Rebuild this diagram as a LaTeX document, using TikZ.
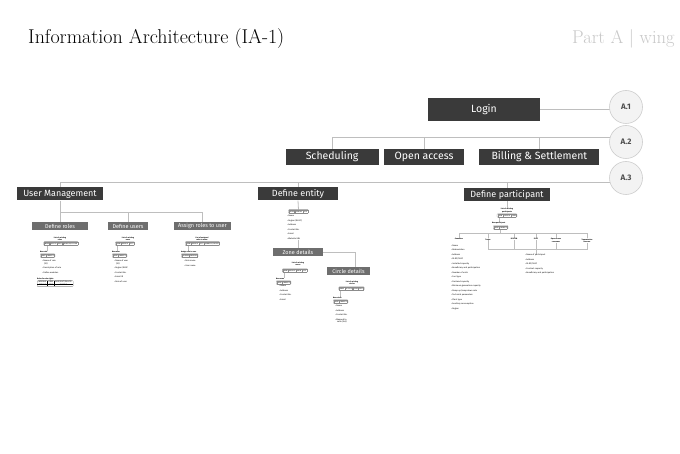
\documentclass[tikz,border=0pt]{standalone}
\usepackage{fontspec}
\newfontfamily\boxfont{Fira Sans}
\usetikzlibrary{positioning,backgrounds}
\definecolor{boxdark}{RGB}{58,58,58}
\definecolor{boxgray}{RGB}{110,110,110}
\definecolor{linegray}{RGB}{190,190,190}
\definecolor{circfill}{RGB}{243,243,243}
\definecolor{circline}{RGB}{205,205,205}
\definecolor{headgray}{RGB}{200,200,200}
\newcommand{\tinyfont}{\boxfont\fontsize{2}{2.6}\selectfont}
\newcommand{\btn}[1]{{\setlength{\fboxsep}{0.4pt}\setlength{\fboxrule}{0.25pt}\fcolorbox{black!45}{white}{#1}}}
\newcommand{\fielditem}[1]{\textbullet\ #1}
\tikzset{heading/.style={anchor=base west, inner sep=0pt, font=\fontsize{20}{22}\selectfont}, topbox/.style={rectangle, fill=boxdark, text=white, font=\boxfont\fontsize{10.5}{12}\selectfont, minimum height=16pt, inner sep=1pt}, subbox/.style={rectangle, fill=boxdark, text=white, font=\boxfont\fontsize{9}{10}\selectfont, minimum height=13pt, inner sep=1pt}, pagebox/.style={rectangle, fill=boxgray, text=white, font=\boxfont\fontsize{5.5}{6}\selectfont, minimum height=8.5pt, inner sep=0.5pt}, refcircle/.style={circle, draw=circline, fill=circfill, line width=0.6pt, minimum size=33pt, font=\boxfont\bfseries\fontsize{8}{9}\selectfont, text=black!70}, link/.style={draw=linegray, line width=0.8pt}, thinlink/.style={draw=linegray, line width=0.5pt}, btns/.style={draw=black!45, rounded corners=0.8pt, line width=0.3pt, inner sep=0.5pt, font=\tinyfont}, caption/.style={font=\boxfont\bfseries\fontsize{1.8}{2.4}\selectfont, align=center, inner sep=0pt}, fieldlist/.style={font=\boxfont\fontsize{2.1}{4.5}\selectfont, align=left, anchor=north west, inner sep=0pt}}

\begin{document}
\begin{tikzpicture}[x=1pt, y=-1pt]
\useasboundingbox (0,0) rectangle (680,454);
% heading
\node[heading] (title) at (28,44) {Information Architecture (IA-\oldstylenums{1})};
\node[heading, text=headgray, font=\fontsize{18.5}{20}\selectfont] (part) at (572,44) {Part A | wing A};
% main levels
\node[topbox, minimum width=112pt, minimum height=23pt] (login) at (484,109.5) {Login};
\node[refcircle] (refA1) at (626,107) {A.1};
\node[refcircle] (refA2) at (626,142) {A.2};
\node[refcircle] (refA3) at (626,178) {A.3};
\node[topbox, minimum width=80pt] (openaccess) at (424,157) {Open access};
\node[topbox, minimum width=93pt, left=5pt of openaccess] (scheduling) {Scheduling};
\node[topbox, minimum width=120pt, right=15pt of openaccess] (billing) {Billing \& Settlement};
\node[subbox, minimum width=86pt] (usermgmt) at (60,194) {User Management};
\node[subbox, minimum width=80pt] (entity) at (298,194) {Define entity};
\node[subbox, minimum width=86pt] (participant) at (507,194.5) {Define participant};
\coordinate (bus2) at (0,137);
\coordinate (bus3) at (0,182);
\coordinate (bus4) at (0,212);
\coordinate (bus5) at (0,233);
\coordinate (bracket) at (0,249);
% user management
\node[pagebox, minimum width=56pt] (roles) at (60,226) {Define roles};
\node[pagebox, minimum width=40pt] (users) at (128,226) {Define users};
\node[pagebox, minimum width=57pt] (assign) at (202.5,226) {Assign roles to user};
\node[caption] (rolecap) at (60,238.5) {List of existing\\roles};
\node[btns] (rolebtns) at (61,243.7) {\btn{NEW}\btn{DELETE}\btn{EDIT}\btn{SEARCH/FILTER}};
\node[caption, anchor=west] (newrole) at (40,252) {New role};
\node[btns, anchor=north west] (rolesave) at (40,253.6) {\btn{SAVE}\btn{CANCEL}};
\node[fieldlist] (rolefields) at (42,259.8) {\fielditem{Name of role}\\[-2pt]\quad(ID)\\\fielditem{Description of role}\\\fielditem{Define modules}};
\node[caption, anchor=west] (rulecap) at (37,278.5) {Rules for role rights};
\node[btns, anchor=north west, inner sep=0.3pt] (ruletable) at (37,280.5) {\setlength{\tabcolsep}{1.2pt}\setlength{\arrayrulewidth}{0.2pt}\begin{tabular}{c|c|c}MODULE & VIEW & ADD/EDIT/DELETE\\\hline ENABLE & EDIT & DISABLE\end{tabular}};
\node[caption] (usercap) at (128,238.5) {List of existing\\users};
\node[btns] (userbtns) at (125,243.7) {\btn{NEW}\btn{DELETE}\btn{EDIT}};
\node[caption, anchor=west] (newuser) at (112,252) {New user};
\node[btns, anchor=north west] (usersave) at (112,253.6) {\btn{SAVE}\btn{CANCEL}};
\node[fieldlist] (userfields) at (114,259.8) {\fielditem{Name of user}\\[-2pt]\quad(ID)\\\fielditem{Region/RLDC}\\\fielditem{Contact No.}\\\fielditem{Email ID}\\\fielditem{Role of user}};
\node[caption] (assigncap) at (202,238.5) {List of assigned\\roles to users};
\node[btns] (assignbtns) at (202.5,243.7) {\btn{NEW}\btn{DELETE}\btn{EDIT}\btn{SEARCH/FILTER}};
\node[caption, anchor=west] (newassign) at (181,252) {Assign role to user};
\node[btns, anchor=north west] (assignsave) at (181,253.6) {\btn{ASSIGN}\btn{CANCEL}};
\node[fieldlist] (assignfields) at (184,259.8) {\fielditem{Role name}\\\fielditem{User name}};
% entity
\node[btns] (entitybtns) at (298.5,211.5) {\btn{SAVE}\btn{CANCEL}\btn{EDIT}};
\node[fieldlist] (entityfields) at (287,215.2) {\fielditem{Name}\\\fielditem{Region (RLDC)}\\\fielditem{Address}\\\fielditem{Contact No.}\\\fielditem{Email}\\\fielditem{Website URL}};
\node[pagebox, minimum width=50pt] (zone) at (298,252) {Zone details};
\node[pagebox, minimum width=43pt] (circledet) at (348.5,271) {Circle details};
\node[caption] (zonecap) at (298,264) {List of existing\\zones};
\node[btns] (zonebtns) at (295,270.5) {\btn{NEW}\btn{DELETE}\btn{VIEW}\btn{EDIT}};
\node[caption, anchor=west] (newzone) at (276,279) {New zone};
\node[btns, anchor=north west] (zonesave) at (276,280.6) {\btn{SAVE}\btn{CANCEL}};
\node[fieldlist] (zonefields) at (279,285.2) {\fielditem{Name}\\\fielditem{Address}\\\fielditem{Contact No.}\\\fielditem{Email}};
\node[caption] (circlecap) at (352,283) {List of existing\\circles};
\node[btns] (circlebtns) at (351.5,288.5) {\btn{NEW}\btn{DELETE}\btn{VIEW}\btn{EDIT}};
\node[caption, anchor=west] (newcircle) at (333,298) {New circle};
\node[btns, anchor=north west] (circlesave) at (333,299.6) {\btn{SAVE}\btn{CANCEL}};
\node[fieldlist] (circlefields) at (335,305.2) {\fielditem{Name}\\\fielditem{Address}\\\fielditem{Contact No.}\\\fielditem{Mapped to}\\[-2pt]\quad zone (list)};
% participant
\node[caption] (partcap) at (507,210.5) {List of existing\\participants};
\node[btns] (partbtns) at (507,215.5) {\btn{NEW}\btn{DELETE}\btn{VIEW}};
\node[caption, anchor=west] (newpart) at (492,223) {New participant};
\node[btns, anchor=north west] (partsave) at (493,225.4) {\btn{SAVE}\btn{CANCEL}};
\node[caption, anchor=north] (generator) at (459,238.5) {Generator};
\node[caption, anchor=north] (trader) at (488,238.5) {Trader};
\node[caption, anchor=north] (discom) at (514,238.5) {DISCOM};
\node[caption, anchor=north] (sldc) at (536,238.5) {SLDC};
\node[caption, anchor=north] (oaconsumer) at (556,238.5) {Open access\\consumer};
\node[caption, anchor=north] (translic) at (587,238.5) {Transmission\\licensee};
\node[fieldlist] (generatorfields) at (451,244.8) {\fielditem{Name}\\\fielditem{Abbreviation}\\\fielditem{Address}\\\fielditem{RLDC/SLDC}\\\fielditem{Installed capacity}\\\fielditem{Beneficiary and participation}\\\fielditem{Number of units}\\\fielditem{Fuel type}\\\fielditem{Declared capacity}\\\fielditem{Minimum generation capacity}\\\fielditem{Ramp up/ramp down rate}\\\fielditem{Technical parameters}\\\fielditem{Plant type}\\\fielditem{Auxiliary consumption}\\\fielditem{Region}};
\node[fieldlist] (commonfields) at (525,253.8) {\fielditem{Name of participant}\\\fielditem{Address}\\\fielditem{RLDC/SLDC}\\\fielditem{Contract capacity}\\\fielditem{Beneficiary and participation}};
% connectors
\begin{scope}[on background layer]
\fill[white] (0,0) rectangle (680,454);
\draw[link] (login.east) -- (login.east -| refA1);
\draw[link] (scheduling.north) |- (refA2 |- bus2);
\draw[link] (openaccess.north) -- (openaccess.north |- bus2);
\draw[link] (billing.north) -- (billing.north |- bus2);
\draw[link] (usermgmt.north) |- (refA3 |- bus3);
\draw[link] (entity.north) -- (entity.north |- bus3);
\draw[link] (participant.north) -- (participant.north |- bus3);
\draw[link] (usermgmt.south) -- (roles.north);
\draw[link] (usermgmt.south |- bus4) -| (assign.north);
\draw[link] (users.north) -- (users.north |- bus4);
\draw[thinlink] ([xshift=4pt]rolebtns.south west) -- ([xshift=4pt]rolebtns.south west |- newrole.north);
\draw[thinlink] ([xshift=2pt]userbtns.south west) -- ([xshift=2pt]userbtns.south west |- newuser.north);
\draw[thinlink] ([xshift=3pt]assignbtns.south west) -- ([xshift=3pt]assignbtns.south west |- newassign.north);
\draw[link] (entity.south) -- (entitybtns.north);
\draw[link] (entityfields.south -| zone.north) -- (zone.north);
\draw[link] (zone.east) -| ([xshift=7pt]circledet.north);
\draw[thinlink] ([xshift=2pt]zonebtns.south west) -- ([xshift=2pt]zonebtns.south west |- newzone.north);
\draw[thinlink] ([xshift=2pt]circlebtns.south west) -- ([xshift=2pt]circlebtns.south west |- newcircle.north);
\draw[link] (participant.south) -- (partcap.north);
\draw[thinlink] ([xshift=2pt]partbtns.south west) -- ([xshift=2pt]partbtns.south west |- newpart.north);
\draw[thinlink] (partsave.south) -- (partsave.south |- bus5);
\draw[thinlink] (generator.north) |- (translic.north |- bus5) -- (translic.north);
\draw[thinlink] (trader.north) -- (trader.north |- bus5) (discom.north) -- (discom.north |- bus5) (sldc.north) -- (sldc.north |- bus5) (oaconsumer.north) -- (oaconsumer.north |- bus5);
\draw[thinlink] (trader.south) |- (translic.south |- bracket) -- (translic.south);
\draw[thinlink] (discom.south) -- (discom.south |- bracket) (oaconsumer.south) -- (oaconsumer.south |- bracket);
\draw[thinlink] (sldc.south) -- (sldc.south |- commonfields.north);
\end{scope}
\end{tikzpicture}
\end{document}
